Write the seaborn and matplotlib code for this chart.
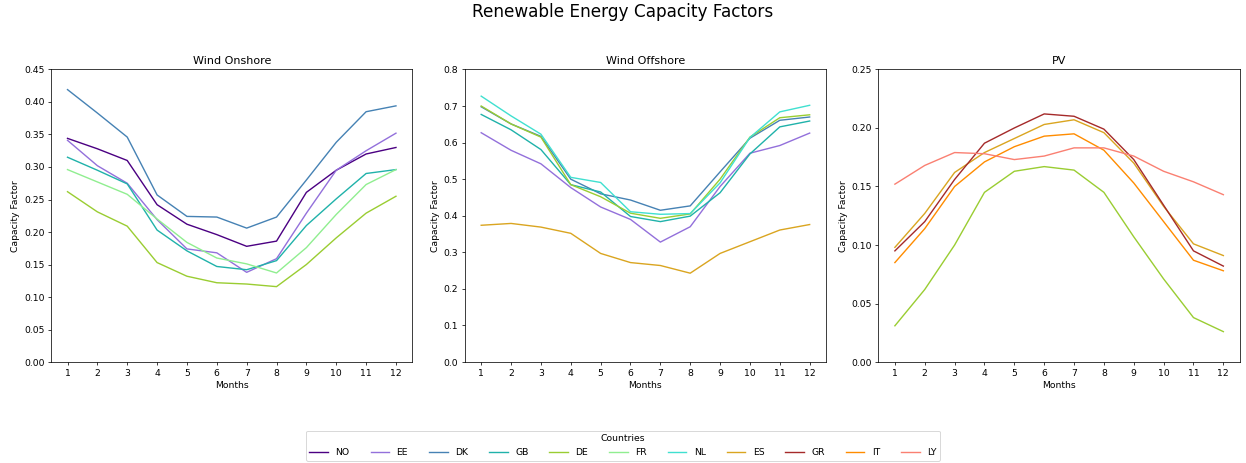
import numpy as np
import pandas as pd
import matplotlib
matplotlib.use("Agg")
import matplotlib.pyplot as plt
import seaborn as sns
from matplotlib.lines import Line2D

months = list(range(1, 13))

countries = ["NO", "EE", "DK", "GB", "DE", "FR", "NL", "ES", "GR", "IT", "LY"]
colors = ["#4B0082", "#9370DB", "#4682B4", "#20B2AA", "#9ACD32", "#90EE90",
          "#40E0D0", "#DAA520", "#A52A2A", "#FF8C00", "#FA8072"]

# Wind Onshore
on_NO = [0.344, 0.328, 0.310, 0.242, 0.212, 0.196, 0.178, 0.186, 0.261, 0.295, 0.320, 0.330]
on_EE = [0.341, 0.302, 0.275, 0.219, 0.174, 0.168, 0.138, 0.159, 0.229, 0.295, 0.325, 0.352]
on_DK = [0.419, 0.383, 0.346, 0.257, 0.224, 0.223, 0.206, 0.223, 0.280, 0.338, 0.385, 0.394]
on_GB = [0.315, 0.295, 0.274, 0.203, 0.171, 0.147, 0.142, 0.156, 0.210, 0.251, 0.290, 0.296]
on_DE = [0.262, 0.231, 0.209, 0.153, 0.132, 0.122, 0.120, 0.116, 0.150, 0.191, 0.229, 0.255]
on_FR = [0.296, 0.277, 0.258, 0.220, 0.184, 0.160, 0.151, 0.137, 0.176, 0.227, 0.273, 0.296]

# Wind Offshore
off_EE = [0.627, 0.579, 0.542, 0.477, 0.424, 0.390, 0.328, 0.370, 0.480, 0.571, 0.592, 0.626]
off_DK = [0.698, 0.651, 0.617, 0.500, 0.460, 0.443, 0.415, 0.427, 0.520, 0.612, 0.661, 0.670]
off_GB = [0.677, 0.635, 0.581, 0.485, 0.465, 0.398, 0.384, 0.399, 0.463, 0.569, 0.643, 0.659]
off_DE = [0.700, 0.651, 0.615, 0.485, 0.452, 0.407, 0.393, 0.405, 0.500, 0.615, 0.668, 0.676]
off_NL = [0.727, 0.673, 0.623, 0.505, 0.491, 0.411, 0.404, 0.406, 0.490, 0.614, 0.684, 0.702]
off_ES = [0.374, 0.379, 0.369, 0.352, 0.297, 0.272, 0.264, 0.243, 0.297, 0.329, 0.361, 0.376]

# PV
pv_DE = [0.031, 0.062, 0.100, 0.145, 0.163, 0.167, 0.164, 0.145, 0.107, 0.071, 0.038, 0.026]
pv_ES = [0.098, 0.127, 0.162, 0.179, 0.191, 0.203, 0.207, 0.196, 0.170, 0.133, 0.101, 0.091]
pv_GR = [0.095, 0.120, 0.156, 0.187, 0.200, 0.212, 0.210, 0.199, 0.173, 0.134, 0.095, 0.082]
pv_IT = [0.085, 0.114, 0.150, 0.171, 0.184, 0.193, 0.195, 0.181, 0.153, 0.120, 0.087, 0.078]
pv_LY = [0.152, 0.168, 0.179, 0.178, 0.173, 0.176, 0.183, 0.183, 0.176, 0.163, 0.154, 0.143]

panels = [
    ("Wind Onshore", {"NO": on_NO, "EE": on_EE, "DK": on_DK, "GB": on_GB, "DE": on_DE, "FR": on_FR},
     np.arange(0, 0.451, 0.05), "{:.2f}"),
    ("Wind Offshore", {"EE": off_EE, "DK": off_DK, "GB": off_GB, "DE": off_DE, "NL": off_NL, "ES": off_ES},
     np.arange(0, 0.81, 0.1), "{:.1f}"),
    ("PV", {"DE": pv_DE, "ES": pv_ES, "GR": pv_GR, "IT": pv_IT, "LY": pv_LY},
     np.arange(0, 0.251, 0.05), "{:.2f}"),
]

palette = dict(zip(countries, colors))

plt.style.use("default")
plt.rcParams['font.family'] = ['DejaVu Sans']

DPI = 67
fig, axes = plt.subplots(1, 3, figsize=(1246 / DPI, 463 / DPI), dpi=DPI)
fig.subplots_adjust(left=0.041, right=0.995, top=0.850, bottom=0.218, wspace=0.145)

for ax, (title, data, yticks, fmt) in zip(axes, panels):
    rows = []
    for c, vals in data.items():
        for m, v in zip(months, vals):
            rows.append({"Month": m, "Country": c, "CF": v})
    df = pd.DataFrame(rows)
    sns.lineplot(data=df, x="Month", y="CF", hue="Country", palette=palette,
                 hue_order=[c for c in countries if c in data], ax=ax,
                 linewidth=1.5, legend=False)
    ax.set_title(title, fontsize=12)
    ax.set_xlabel("Months", fontsize=10)
    ax.set_ylabel("Capacity Factor", fontsize=10)
    ax.set_xticks(months)
    ax.set_yticks(yticks)
    ax.set_yticklabels([fmt.format(t) for t in yticks])
    ax.set_ylim(0, yticks[-1])
    ax.set_xlim(0.45, 12.55)
    ax.tick_params(labelsize=10)

fig.suptitle("Renewable Energy Capacity Factors", fontsize=18.2, y=0.993)

handles = [Line2D([0], [0], color=palette[c], lw=1.5) for c in countries]
fig.legend(handles, countries, loc="lower center", bbox_to_anchor=(0.5, -0.005),
           ncol=11, title="Countries", fontsize=10, title_fontsize=10,
           frameon=True, columnspacing=2.25)

fig.savefig("out.png", dpi=DPI)
